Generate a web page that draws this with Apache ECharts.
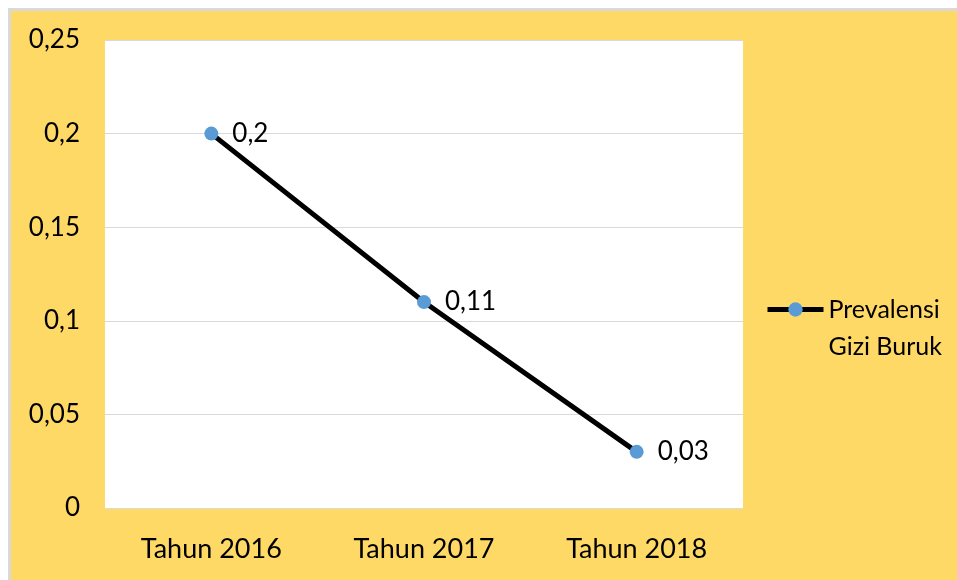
<!DOCTYPE html>
<html>
<head>
<meta charset="utf-8">
<script src="https://cdn.jsdelivr.net/npm/echarts@6/dist/echarts.min.js"></script>
<style>
  html, body { margin: 0; padding: 0; background: #ffffff; }
  #chart { width: 957px; height: 580px; }
</style>
</head>
<body>
<div id="chart"></div>
<script>
// data
var categories = ['Tahun 2016', 'Tahun 2017', 'Tahun 2018'];
var seriesName = 'Prevalensi Gizi Buruk';
var prevalensi = [0.2, 0.11, 0.03];

var fontFamily = 'Lato, "Open Sans", sans-serif';

function comma(v) {
  return String(v).replace('.', ',');
}

var chart = echarts.init(document.getElementById('chart'));
var option = {
  backgroundColor: '#ffffff',
  animation: false,
  graphic: [
    {
      type: 'rect', z: -10, silent: true,
      shape: { x: 8, y: 8, width: 949, height: 572 },
      style: { fill: '#d9d9d9' }
    },
    {
      type: 'rect', z: -9, silent: true,
      shape: { x: 11, y: 11, width: 946, height: 569 },
      style: { fill: '#ffd966' }
    }
  ],
  grid: {
    left: 105,
    top: 40,
    width: 638,
    height: 468,
    show: true,
    backgroundColor: '#ffffff',
    borderWidth: 0
  },
  legend: {
    left: 765,
    top: 254,
    padding: 0,
    orient: 'vertical',
    itemWidth: 56,
    itemHeight: 18,
    lineStyle: { width: 5 },
    // empty first line so the icon sits level with "Prevalensi"
    formatter: function (name) {
      return ' \nPrevalensi\nGizi Buruk';
    },
    textStyle: {
      color: '#000000',
      fontSize: 25,
      fontFamily: fontFamily,
      lineHeight: 37
    },
    data: [seriesName]
  },
  xAxis: {
    type: 'category',
    data: categories,
    axisLine: { lineStyle: { color: '#d9d9d9', width: 1 } },
    axisTick: { show: false },
    axisLabel: {
      color: '#000000',
      fontSize: 27,
      fontFamily: fontFamily,
      margin: 28
    }
  },
  yAxis: {
    type: 'value',
    min: 0,
    max: 0.25,
    interval: 0.05,
    axisLine: { show: false },
    axisTick: { show: false },
    splitLine: { lineStyle: { color: '#d9d9d9', width: 1 } },
    axisLabel: {
      color: '#000000',
      fontSize: 26,
      fontFamily: fontFamily,
      margin: 25,
      formatter: function (v) { return comma(Math.round(v * 100) / 100); }
    }
  },
  series: [
    {
      name: seriesName,
      type: 'line',
      data: prevalensi,
      symbol: 'circle',
      symbolSize: 14,
      lineStyle: { color: '#000000', width: 5 },
      itemStyle: { color: '#5b9bd5' },
      label: {
        show: true,
        position: 'right',
        distance: 14,
        color: '#000000',
        fontSize: 26,
        fontFamily: fontFamily,
        formatter: function (p) { return comma(p.value); }
      }
    }
  ]
};
chart.setOption(option);
</script>
</body>
</html>
